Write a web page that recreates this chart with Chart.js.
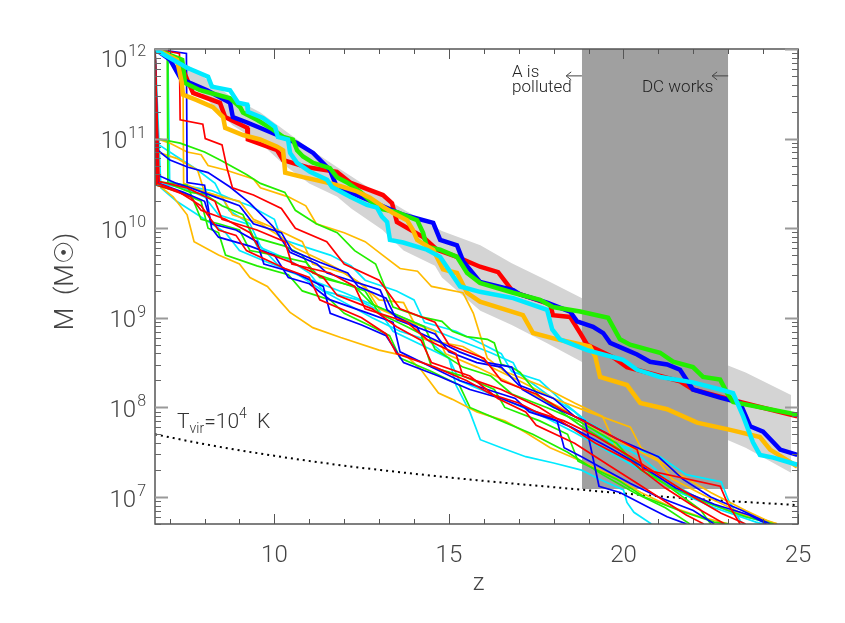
<!DOCTYPE html>
<html>
<head>
<meta charset="utf-8">
<script src="https://cdn.jsdelivr.net/npm/chart.js@4.4.1/dist/chart.umd.min.js"></script>
<style>
  body { margin: 0; background: #fff; }
  #wrap { width: 845px; height: 623px; }
</style>
</head>
<body>
<div id="wrap"><canvas id="chart"></canvas></div>
<script>
// axis limits and tick labels
const zMin = 6.58, zMax = 25;
const mMin = 5e6, mMax = 1e12;
const xTickLabels = [10, 15, 20, 25];
const yTickExps = [7, 8, 9, 10, 11, 12];

// main-progenitor histories, pairs of [z, log10 M]
const thickRed = [[6.58,12.0],[7.30,11.84],[7.67,11.51],[8.44,11.40],[8.59,11.24],[9.22,11.12],[9.24,10.99],[10.08,10.87],[10.25,10.76],[10.94,10.68],[11.79,10.63],[12.17,10.51],[13.11,10.37],[13.37,10.28],[13.51,10.07],[14.26,9.90],[14.66,9.76],[15.23,9.68],[15.89,9.57],[16.41,9.51],[16.84,9.29],[17.90,9.15],[17.98,9.03],[18.47,9.01],[18.76,8.83],[18.96,8.70],[19.70,8.56],[20.10,8.45],[20.68,8.39],[21.62,8.29],[21.99,8.20],[23.14,8.08],[24.98,7.90]];
const thickBlue = [[6.58,12.0],[7.01,11.88],[7.30,11.68],[7.53,11.63],[8.07,11.54],[8.73,11.40],[8.81,11.24],[9.22,11.18],[9.96,11.06],[10.65,10.95],[11.11,10.84],[11.59,10.65],[11.79,10.46],[12.65,10.32],[13.69,10.15],[14.55,10.06],[14.75,9.87],[15.23,9.81],[15.41,9.63],[15.89,9.40],[16.84,9.31],[17.04,9.26],[17.81,9.17],[18.47,9.07],[18.67,8.96],[19.13,8.90],[19.42,8.83],[19.62,8.72],[20.10,8.64],[20.39,8.59],[20.76,8.51],[21.25,8.48],[21.62,8.42],[21.99,8.20],[22.77,8.11],[23.34,8.05],[23.63,7.79],[24.00,7.73],[24.49,7.53],[24.98,7.47]];
const thickGreen = [[6.58,12.0],[7.36,11.88],[7.44,11.62],[7.87,11.54],[8.36,11.49],[8.73,11.45],[9.02,11.35],[9.10,11.29],[9.50,11.21],[9.96,11.10],[10.25,11.02],[10.53,10.99],[10.65,10.87],[10.82,10.80],[11.11,10.73],[11.59,10.67],[11.79,10.57],[12.08,10.51],[12.45,10.41],[12.94,10.24],[13.11,10.21],[13.51,10.18],[14.09,10.09],[14.26,9.95],[14.37,9.79],[14.75,9.76],[15.23,9.68],[15.52,9.50],[15.89,9.39],[16.84,9.28],[17.61,9.20],[17.98,9.12],[18.76,9.07],[19.56,9.00],[19.90,8.76],[20.19,8.70],[20.76,8.64],[21.05,8.61],[21.42,8.51],[21.99,8.45],[22.28,8.34],[22.77,8.31],[22.97,8.16],[23.14,8.06],[24.98,7.92]];
const thickOrange = [[6.58,12.0],[7.21,11.88],[7.35,11.62],[7.38,11.49],[7.78,11.43],[8.24,11.35],[8.53,11.24],[8.59,11.12],[9.10,11.04],[9.59,10.99],[10.08,10.91],[10.25,10.87],[10.31,10.62],[10.82,10.57],[11.51,10.51],[11.97,10.46],[12.37,10.41],[12.74,10.34],[13.11,10.24],[13.40,10.17],[13.80,10.09],[13.97,9.98],[14.09,9.87],[14.55,9.76],[14.83,9.54],[15.23,9.50],[15.52,9.28],[15.89,9.18],[17.12,9.03],[17.41,8.83],[18.10,8.76],[19.04,8.68],[19.19,8.57],[19.33,8.34],[20.10,8.25],[20.48,8.05],[21.25,7.98],[22.11,7.83],[23.06,7.75],[23.91,7.67],[24.20,7.53],[24.98,7.34]];
const thickCyan = [[6.58,12.0],[6.87,11.93],[7.50,11.79],[8.10,11.69],[8.21,11.58],[8.73,11.54],[8.96,11.40],[9.22,11.38],[9.24,11.30],[9.67,11.23],[10.02,11.13],[10.10,11.02],[10.39,10.99],[10.45,10.84],[10.65,10.73],[11.02,10.63],[11.51,10.54],[11.65,10.46],[12.17,10.35],[12.65,10.26],[12.94,10.23],[13.08,10.13],[13.23,10.07],[13.31,9.87],[13.69,9.84],[14.37,9.76],[14.75,9.68],[15.32,9.35],[15.89,9.29],[16.84,9.22],[17.81,9.09],[17.96,8.87],[18.18,8.76],[18.96,8.64],[19.99,8.53],[20.39,8.42],[21.05,8.34],[21.99,8.28],[22.77,8.20],[23.14,8.16],[23.43,7.90],[23.71,7.61],[23.91,7.47],[24.29,7.44],[24.98,7.36]];

const thinRed1 = [[6.58,12.0],[7.28,11.95],[7.30,11.21],[7.95,11.16],[8.02,11.0],[8.50,10.93],[8.65,10.66],[8.80,10.45],[9.4,10.37],[10.2,10.22],[10.6,10.0],[11.5,9.85],[12.0,9.6],[13.0,9.42],[13.6,9.1],[14.6,8.95],[15.0,8.7],[16.0,8.55],[16.5,8.3],[17.5,8.15],[18.2,7.98],[18.96,7.83],[20.39,7.53],[20.56,7.31],[22.77,7.12],[22.97,6.94],[23.34,6.70]];
const thinRed2 = [[6.58,12.0],[6.62,10.48],[6.9,10.45],[7.6,10.35],[7.9,10.2],[8.6,10.1],[9.3,9.95],[9.6,9.75],[10.6,9.6],[11.4,9.45],[11.8,9.25],[12.8,9.1],[13.5,8.9],[14.2,8.75],[14.5,8.5],[15.6,8.35],[16.4,8.1],[17.2,7.95],[17.5,7.8],[18.6,7.6],[19.6,7.35],[20.4,7.15],[21.2,6.95],[21.8,6.80],[22.3,6.70]];
const thinRed3 = [[6.58,12.0],[6.65,10.5],[7.2,10.42],[7.9,10.25],[8.4,9.98],[8.9,9.92],[9.2,9.75],[10.3,9.55],[11.0,9.45],[11.3,9.2],[12.5,9.0],[13.2,8.82],[13.5,8.6],[14.6,8.45],[15.5,8.3],[16.2,8.15],[17.0,8.05],[17.5,7.95],[18.3,7.85],[19.2,7.68],[20.2,7.45],[21.2,7.2],[22.0,7.0],[22.8,6.82],[23.5,6.70]];
const thinRed4 = [[6.58,12.0],[6.70,10.52],[7.5,10.45],[8.3,10.3],[8.5,10.1],[9.5,9.98],[10.3,9.85],[10.5,9.6],[11.6,9.5],[12.3,9.35],[12.6,9.1],[13.8,8.95],[14.4,8.75],[15.2,8.6],[15.4,8.35],[16.5,8.2],[17.6,8.0],[18.4,7.8],[19.2,7.6],[20.2,7.4],[21.2,7.1],[22.0,6.9],[22.9,6.70]];

const thinBlue1 = [[6.58,12.0],[7.48,11.95],[7.50,10.51],[8.0,10.48],[8.2,10.0],[8.4,9.9],[9.3,9.8],[10.0,9.7],[10.4,9.45],[11.0,9.38],[11.6,9.2],[12.7,9.05],[13.4,8.95],[13.6,8.62],[14.5,8.45],[15.3,8.3],[16.1,8.2],[16.9,8.1],[17.3,7.95],[18.1,7.85],[18.3,7.55],[18.8,7.45],[19.5,7.3],[20.2,7.15],[21.0,7.0],[22.0,6.85],[22.6,6.70]];
const thinBlue2 = [[6.58,12.0],[6.66,10.87],[7.01,10.76],[7.53,10.68],[8.1,10.62],[8.73,10.46],[9.30,10.28],[9.96,10.02],[10.45,9.73],[11.22,9.60],[11.51,9.50],[13.03,9.31],[13.11,9.24],[13.23,9.09],[13.51,9.01],[14.09,8.90],[14.17,8.83],[14.9,8.7],[15.3,8.62],[16.1,8.5],[16.8,8.45],[17.1,8.2],[18.0,8.0],[18.9,7.85],[19.3,7.12],[19.9,7.05],[20.7,6.89],[21.25,6.78],[21.8,6.70]];
const thinBlue3 = [[6.58,12.0],[6.62,10.6],[7.2,10.5],[7.6,10.45],[8.3,10.35],[9.0,10.25],[9.4,10.05],[10.2,9.95],[10.5,9.75],[11.3,9.62],[12.1,9.5],[12.4,9.35],[13.2,9.22],[13.5,8.98],[14.6,8.82],[15.0,8.62],[15.8,8.5],[16.5,8.45],[17.0,8.25],[18.0,8.1],[18.6,7.9],[19.8,7.65],[21.0,7.45],[21.7,7.2],[22.5,7.0],[23.4,6.85],[24.2,6.70]];
const thinBlue4 = [[6.58,12.0],[6.68,10.5],[7.4,10.4],[8.0,10.3],[8.2,10.05],[8.9,9.98],[9.5,9.85],[9.7,9.6],[10.6,9.5],[11.4,9.35],[11.6,9.05],[12.5,8.92],[13.2,8.8],[13.7,8.5],[14.7,8.35],[15.6,8.2],[16.5,8.1],[17.5,7.95],[18.5,7.78],[19.6,7.55],[20.5,7.35],[21.5,7.1],[22.6,6.92],[23.6,6.80],[24.1,6.70]];

const thinGreen1 = [[6.58,12.0],[6.63,11.0],[7.3,10.95],[8.0,10.85],[8.5,10.75],[9.2,10.6],[9.6,10.5],[10.3,10.4],[10.6,10.2],[11.2,10.05],[11.8,9.95],[12.3,9.75],[12.9,9.6],[13.4,9.12],[14.2,9.01],[14.8,8.96],[15.1,8.85],[15.5,8.79],[16.1,8.76],[16.3,8.72],[16.5,8.48],[16.84,8.44],[17.04,8.39],[17.6,8.12],[18.8,7.79],[19.8,7.55],[21.0,7.2],[22.2,6.86],[22.5,6.70]];
const thinGreen2 = [[6.58,12.0],[6.62,10.48],[7.3,10.4],[7.9,10.3],[8.1,10.0],[8.4,9.95],[8.6,9.7],[9.5,9.58],[10.4,9.48],[10.8,9.3],[11.6,9.2],[12.0,9.05],[12.8,8.9],[13.3,8.8],[13.6,8.55],[14.5,8.4],[15.3,8.25],[15.6,8.0],[16.5,7.85],[17.4,7.7],[18.4,7.5],[19.4,7.25],[20.3,7.05],[21.2,6.88],[21.9,6.70]];
const thinGreen3 = [[6.58,12.0],[6.93,11.95],[6.95,10.5],[7.6,10.4],[8.0,10.38],[8.5,10.25],[9.1,10.15],[9.4,9.9],[10.3,9.8],[10.8,9.7],[11.1,9.5],[12.0,9.38],[12.6,9.3],[13.0,9.05],[13.8,8.9],[14.2,8.82],[14.5,8.45],[15.4,8.35],[16.3,8.2],[16.6,8.0],[17.6,7.85],[18.4,7.7],[18.7,7.4],[19.8,7.2],[20.6,7.0],[21.6,6.85],[22.6,6.72],[23.0,6.70]];
const thinGreen4 = [[6.58,12.0],[6.64,10.52],[7.5,10.48],[7.9,10.1],[8.4,10.05],[9.0,9.98],[9.3,9.75],[10.0,9.7],[10.9,9.62],[11.3,9.45],[12.3,9.35],[12.8,9.15],[13.7,9.0],[14.3,8.9],[14.6,8.65],[15.4,8.45],[16.2,8.35],[16.8,8.15],[17.8,8.0],[18.7,7.85],[19.8,7.6],[20.5,7.3],[21.4,7.1],[22.3,6.95],[23.5,6.78],[24.3,6.70]];

const thinOrange1 = [[6.58,12.0],[6.64,11.0],[7.0,10.95],[7.5,10.85],[7.9,10.82],[8.1,10.7],[8.6,10.65],[9.4,10.55],[9.6,10.45],[10.4,10.35],[10.9,10.25],[11.2,10.05],[12.0,9.95],[12.6,9.85],[13.1,9.7],[13.6,9.55],[14.1,9.52],[14.5,9.35],[15.4,9.28],[15.7,9.05],[16.1,8.55],[16.6,8.4],[17.6,8.25],[18.6,8.05],[19.4,7.9],[19.8,7.55],[20.8,7.3],[21.8,7.05],[23.0,6.85],[24.0,6.75],[24.4,6.70]];
const thinOrange2 = [[6.58,12.0],[7.2,11.9],[7.38,11.8],[7.40,10.5],[7.9,10.42],[8.5,10.35],[8.8,10.15],[9.6,10.05],[10.2,9.9],[10.6,9.78],[11.3,9.65],[11.8,9.55],[12.4,9.4],[13.0,9.2],[13.7,9.17],[14.1,8.87],[14.3,8.76],[15.4,8.68],[15.9,8.57],[16.2,8.45],[17.0,8.3],[18.0,8.1],[19.0,7.95],[20.2,7.78],[20.5,7.55],[21.4,7.3],[22.5,7.05],[23.5,6.85],[24.2,6.72],[24.4,6.70]];
const thinOrange3 = [[6.58,12.0],[6.62,10.5],[7.1,10.35],[7.5,10.15],[7.7,9.85],[8.4,9.7],[9.0,9.6],[9.3,9.45],[9.8,9.35],[10.2,9.17],[10.45,9.06],[11.1,8.89],[11.9,8.78],[13.0,8.64],[13.8,8.57],[14.2,8.42],[14.7,8.16],[15.1,8.09],[15.8,7.95],[16.6,7.85],[17.2,7.72],[17.9,7.55],[18.8,7.4],[19.6,7.25],[20.5,7.05],[21.3,6.9],[22.2,6.78],[23.0,6.70]];
const thinOrange4 = [[6.58,12.0],[6.65,10.85],[7.2,10.78],[7.8,10.65],[8.0,10.4],[8.5,10.35],[9.0,10.3],[9.4,10.1],[10.0,10.0],[10.8,9.85],[11.1,9.6],[12.0,9.5],[12.6,9.35],[13.0,9.1],[13.9,8.95],[14.6,8.85],[14.9,8.6],[15.8,8.45],[16.6,8.3],[17.4,8.15],[18.2,8.0],[19.0,7.8],[20.0,7.6],[21.0,7.4],[21.4,7.2],[22.4,7.0],[23.5,6.8],[24.3,6.70]];

const thinCyan1 = [[6.58,12.0],[6.95,11.95],[7.0,10.52],[7.5,10.47],[8.2,10.42],[8.8,10.32],[9.3,10.25],[10.0,10.1],[10.2,9.88],[10.8,9.8],[11.6,9.7],[12.2,9.58],[12.6,9.42],[13.5,9.3],[14.0,9.2],[14.3,8.95],[15.2,8.85],[16.0,8.7],[16.5,8.6],[16.8,8.4],[17.6,8.3],[18.3,8.05],[19.0,7.83],[19.4,7.75],[19.6,7.61],[21.05,7.45],[21.8,7.25],[22.8,7.17],[23.0,6.97],[23.35,6.73],[23.45,6.70]];
const thinCyan2 = [[6.58,12.0],[6.75,10.45],[7.2,10.3],[7.6,10.2],[8.0,10.1],[8.6,9.95],[9.0,9.75],[9.8,9.62],[10.6,9.5],[11.4,9.3],[12.1,9.15],[12.8,9.0],[13.6,8.85],[14.4,8.75],[15.0,8.55],[15.2,8.25],[15.6,7.95],[15.9,7.64],[16.5,7.55],[17.2,7.45],[18.0,7.38],[18.8,7.3],[19.3,7.2],[20.0,7.08],[20.1,6.94],[20.3,6.83],[20.8,6.70]];
const thinCyan3 = [[6.58,12.0],[6.62,10.95],[7.2,10.8],[7.8,10.65],[8.3,10.5],[8.7,10.2],[9.3,10.05],[9.6,9.8],[10.2,9.55],[12.0,9.28],[14.0,8.95],[16.2,8.61],[16.84,8.5],[17.0,8.38],[17.8,8.15],[18.6,7.95],[19.3,7.7],[20.5,7.45],[21.4,7.15],[22.3,6.95],[23.3,6.8],[24.3,6.70]];
const thinCyan4 = [[6.58,12.0],[6.68,10.5],[7.4,10.45],[8.0,10.35],[8.4,10.15],[9.2,10.05],[9.5,9.8],[10.4,9.65],[11.0,9.5],[11.4,9.3],[12.4,9.2],[13.0,9.08],[13.4,8.85],[14.2,8.7],[15.0,8.55],[15.3,8.3],[16.2,8.15],[17.0,8.02],[17.8,7.88],[18.6,7.72],[19.6,7.5],[20.6,7.28],[21.6,7.05],[22.6,6.88],[23.8,6.72],[24.0,6.70]];

// light grey scatter band around the massive histories (log10 M)
const bandZ     = [7.45, 8.2, 8.8, 9.6, 10.3, 11.0, 11.8, 12.2, 13.1, 13.7, 14.6, 14.8, 15.9, 16.8, 17.8, 18.8, 19.7, 20.7, 21.6, 22.6, 23.5, 24.8];
const bandUpper = [11.84, 11.62, 11.46, 11.29, 11.09, 10.89, 10.68, 10.58, 10.35, 10.21, 10.01, 9.97, 9.81, 9.61, 9.42, 9.22, 9.06, 8.90, 8.76, 8.53, 8.39, 8.14];
const bandLower = [11.72, 11.38, 11.15, 10.95, 10.70, 10.50, 10.35, 10.22, 9.98, 9.75, 9.58, 9.45, 9.08, 8.92, 8.72, 8.51, 8.28, 8.05, 7.86, 7.70, 7.55, 7.27];

// dark grey window
const darkBandZ = [18.81, 23.0];
const darkBandFloor = 1.23e7;

// T_vir = 1e4 K mass (dotted)
const tvirZ    = [6.58, 8, 10, 12, 14, 16, 18, 20, 22, 25];
const tvirLogM = [7.70, 7.59, 7.46, 7.35, 7.26, 7.18, 7.11, 7.04, 6.98, 6.91];

const RED = '#ff0000', BLUE = '#0000ff', GREEN = '#22ee00', ORANGE = '#ffbb00', CYAN = '#00eaff';

const toPts = pairs => pairs.map(p => ({ x: p[0], y: Math.pow(10, p[1]) }));

const thinLines = [
  [thinRed1, RED], [thinRed2, RED], [thinRed3, RED], [thinRed4, RED],
  [thinBlue1, BLUE], [thinBlue2, BLUE], [thinBlue3, BLUE], [thinBlue4, BLUE],
  [thinGreen1, GREEN], [thinGreen2, GREEN], [thinGreen3, GREEN], [thinGreen4, GREEN],
  [thinOrange1, ORANGE], [thinOrange2, ORANGE], [thinOrange3, ORANGE], [thinOrange4, ORANGE],
  [thinCyan1, CYAN], [thinCyan2, CYAN], [thinCyan3, CYAN], [thinCyan4, CYAN],
];
const thickLines = [[thickRed, RED], [thickBlue, BLUE], [thickGreen, GREEN], [thickOrange, ORANGE], [thickCyan, CYAN]];

let datasets = [];

datasets.push({
  data: bandZ.map((z, i) => ({ x: z, y: Math.pow(10, bandUpper[i]) })),
  borderColor: 'rgba(0,0,0,0)', backgroundColor: '#d4d4d4', fill: '+1', order: 100,
});
datasets.push({
  data: bandZ.map((z, i) => ({ x: z, y: Math.pow(10, bandLower[i]) })),
  borderColor: 'rgba(0,0,0,0)', fill: false, order: 100,
});
datasets.push({
  data: darkBandZ.map(z => ({ x: z, y: mMax })),
  borderColor: 'rgba(0,0,0,0)', backgroundColor: '#a0a0a0', fill: { value: darkBandFloor }, order: 90,
});
datasets.push({
  data: tvirZ.map((z, i) => ({ x: z, y: Math.pow(10, tvirLogM[i]) })),
  borderColor: '#000', borderWidth: 2, borderDash: [2, 4], cubicInterpolationMode: 'monotone', fill: false, order: 80,
});
for (let i = 0; i < thinLines.length; i++) {
  datasets.push({ data: toPts(thinLines[i][0]), borderColor: thinLines[i][1], borderWidth: 1.7, fill: false, order: 50 });
}
for (let i = 0; i < thickLines.length; i++) {
  datasets.push({ data: toPts(thickLines[i][0]), borderColor: thickLines[i][1], borderWidth: 4.5, fill: false, order: 20 - i });
}

const FONT = 'Roboto, "Liberation Sans", Arial, sans-serif';
const TEXT = '#444';

function font(size) {
  return '300 ' + size + 'px ' + FONT;
}

function drawParts(ctx, parts, x, y) {
  for (const p of parts) {
    ctx.font = font(p.size);
    ctx.fillText(p.t, x, y + (p.dy || 0));
    x += ctx.measureText(p.t).width;
  }
}

function arrow(ctx, x0, x1, y) {
  ctx.beginPath();
  ctx.moveTo(x0, y); ctx.lineTo(x1, y);
  ctx.moveTo(x1 + 5, y - 4); ctx.lineTo(x1, y); ctx.lineTo(x1 + 5, y + 4);
  ctx.stroke();
}

const axesDecor = {
  id: 'axesDecor',
  afterDatasetsDraw(chart) {
    const { ctx, chartArea: a, scales: { x, y } } = chart;
    ctx.save();

    // frame
    ctx.strokeStyle = '#555';
    ctx.lineWidth = 1.5;
    ctx.strokeRect(a.left, a.top, a.right - a.left, a.bottom - a.top);

    // x ticks (bottom and top, pointing inward)
    ctx.lineWidth = 1;
    for (let z = 7; z <= 25; z++) {
      const px = Math.round(x.getPixelForValue(z)) + 0.5;
      const len = z % 5 === 0 ? 10 : 5;
      ctx.beginPath();
      ctx.moveTo(px, a.bottom); ctx.lineTo(px, a.bottom - len);
      ctx.moveTo(px, a.top); ctx.lineTo(px, a.top + len);
      ctx.stroke();
    }

    // y ticks (left and right)
    for (let e = 6; e <= 12; e++) {
      for (let m = 1; m <= 9; m++) {
        const v = m * Math.pow(10, e);
        if (v < mMin || v > mMax) continue;
        const py = Math.round(y.getPixelForValue(v)) + 0.5;
        const major = m === 1;
        ctx.strokeStyle = major ? '#999' : '#666';
        ctx.lineWidth = major ? 2 : 1;
        const len = major ? 13 : 6;
        ctx.beginPath();
        ctx.moveTo(a.left, py); ctx.lineTo(a.left + len, py);
        ctx.moveTo(a.right, py); ctx.lineTo(a.right - len, py);
        ctx.stroke();
      }
    }

    ctx.fillStyle = TEXT;

    // x tick labels
    ctx.textAlign = 'center';
    ctx.textBaseline = 'alphabetic';
    ctx.font = font(24);
    for (const v of xTickLabels) {
      ctx.fillText(String(v), x.getPixelForValue(v), a.bottom + 38);
    }
    ctx.fillText('z', (a.left + a.right) / 2 + 2, a.bottom + 66);

    // y tick labels 10^n
    ctx.textAlign = 'left';
    for (const e of yTickExps) {
      const cy = y.getPixelForValue(Math.pow(10, e)) + (e === 12 ? 9 : 1);
      ctx.font = font(16);
      const supW = ctx.measureText(String(e)).width;
      ctx.font = font(24);
      const baseW = ctx.measureText('10').width;
      const right = a.left - 9;
      ctx.fillText('10', right - supW - 1 - baseW, cy + 8.5);
      ctx.font = font(16);
      ctx.fillText(String(e), right - supW, cy - 2);
    }

    // y title
    ctx.save();
    ctx.translate(66, (a.top + a.bottom) / 2 - 5);
    ctx.rotate(-Math.PI / 2);
    ctx.textAlign = 'center';
    ctx.textBaseline = 'middle';
    ctx.font = font(26);
    ctx.fillText('M  (M\u2609)', 0, 0);
    ctx.restore();

    // T_vir label
    ctx.fillStyle = '#333';
    ctx.textAlign = 'left';
    drawParts(ctx, [
      { t: 'T', size: 21 }, { t: 'vir', size: 14, dy: 5 }, { t: '=', size: 21 },
      { t: '10', size: 21 }, { t: '4', size: 14, dy: -10 }, { t: '  K', size: 21 },
    ], x.getPixelForValue(7.21), y.getPixelForValue(Math.pow(10, 7.775)));

    // window annotations
    const yArrow = y.getPixelForValue(Math.pow(10, 11.70));
    const yLine1 = y.getPixelForValue(Math.pow(10, 11.688));
    const yLine2 = y.getPixelForValue(Math.pow(10, 11.52));
    ctx.font = font(17);
    ctx.fillStyle = '#222';
    ctx.fillText('A is', x.getPixelForValue(16.81), yLine1);
    ctx.fillText('polluted', x.getPixelForValue(16.81), yLine2);
    ctx.fillText('DC works', x.getPixelForValue(20.53), yLine2);
    ctx.strokeStyle = '#444';
    ctx.lineWidth = 1;
    arrow(ctx, x.getPixelForValue(darkBandZ[0]), x.getPixelForValue(18.36), yArrow);
    arrow(ctx, x.getPixelForValue(darkBandZ[1]), x.getPixelForValue(22.54), yArrow);

    ctx.restore();
  },
};

new Chart(document.getElementById('chart'), {
  type: 'line',
  data: { datasets: datasets },
  options: {
    responsive: true,
    maintainAspectRatio: false,
    animation: false,
    layout: { padding: { left: 155, right: 47, top: 49, bottom: 99 } },
    elements: { point: { radius: 0 }, line: { tension: 0 } },
    plugins: { legend: { display: false }, tooltip: { enabled: false } },
    scales: {
      x: { type: 'linear', min: zMin, max: zMax, display: false },
      y: { type: 'logarithmic', min: mMin, max: mMax, display: false },
    },
  },
  plugins: [axesDecor],
});
</script>
</body>
</html>
